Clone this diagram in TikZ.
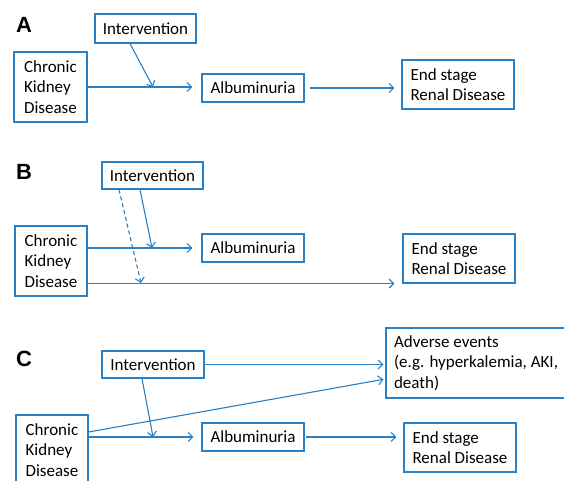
\documentclass[tikz,border=0pt]{standalone}
\usepackage{fontspec}
\setmainfont{Carlito}
\newfontfamily\labfont{Liberation Sans}
\usepackage{tikz}
\usetikzlibrary{arrows.meta, positioning}
\definecolor{ppblue}{RGB}{41,128,196}
\def\bl{ppblue}
\tikzstyle{box} = [rectangle, draw=\bl, line width=1.2pt, align=left, inner sep=0pt,
                   font=\fontsize{17}{20.5}\selectfont]
\tikzstyle{panel} = [font=\labfont\bfseries\fontsize{22}{22}\selectfont]
\tikzstyle{link} = [->, draw=\bl, line width=1.1pt]

\begin{document}
\begin{tikzpicture}[x=1pt, y=-1pt, >={Straight Barb[length=4.5pt,width=9pt]}]
  \useasboundingbox (0,0) rectangle (564,481);

  % panel A
  \node[panel] (labA) at (24,25) {A};
  \node[box, minimum width=101pt, minimum height=29pt] (intA) at (145.5,28.5) {Intervention};
  \node[box, minimum width=73pt, minimum height=70pt] (ckdA) at (50.5,87) {Chronic\\Kidney\\Disease};
  \node[box, minimum width=102pt, minimum height=28pt] (albA) at (253,88) {Albuminuria};
  \node[box, minimum width=112pt, minimum height=49pt] (esrdA) at (458,84.5) {End stage\\Renal Disease};
  \coordinate (jA) at (153,87);

  \draw[link, shorten >=9pt] (ckdA.east) -- (ckdA.east -| albA.west);
  \draw[link] ([xshift=-15.5pt]intA.south) -- (jA);
  \draw[link, shorten <=5pt, shorten >=7pt] (albA.east) -- (albA.east -| esrdA.west);

  % panel B
  \node[panel] (labB) at (24,172) {B};
  \node[box, minimum width=101pt, minimum height=27pt] (intB) at (152.5,175.5) {Intervention};
  \node[box, minimum width=72pt, minimum height=70pt] (ckdB) at (51,261) {Chronic\\Kidney\\Disease};
  \node[box, minimum width=102pt, minimum height=28pt] (albB) at (253,248) {Albuminuria};
  \node[box, minimum width=112pt, minimum height=49pt] (esrdB) at (459,258.5) {End stage\\Renal Disease};
  \coordinate (jB1) at (152,248);
  \coordinate (jB2) at (141,283);

  \draw[link, shorten >=9pt] (ckdB.east |- albB.west) -- (albB.west);
  \draw[link, shorten >=8pt] (ckdB.east |- esrdB.south) -- (esrdB.south west);
  \draw[link] ([xshift=-12.5pt]intB.south) -- (jB1);
  \draw[link, dash pattern=on 4pt off 3pt] ([xshift=-33.5pt]intB.south) -- (jB2);

  % panel C
  \node[panel] (labC) at (24,359) {C};
  \node[box, minimum width=102pt, minimum height=27pt] (intC) at (153,364.5) {Intervention};
  \node[box, minimum width=72pt, minimum height=70pt] (ckdC) at (52,450) {Chronic\\Kidney\\Disease};
  \node[box, minimum width=102pt, minimum height=28pt] (albC) at (253,437) {Albuminuria};
  \node[box, minimum width=112pt, minimum height=49pt] (esrdC) at (460,447.5) {End stage\\Renal Disease};
  \node[box, minimum width=180pt, minimum height=70pt] (advC) at (476,363) {Adverse events\\(e.g. hyperkalemia, AKI,\\death)};
  \coordinate (jC) at (153,437);

  \draw[link, shorten >=2pt] (intC.east) -- (intC.east -| advC.west);
  \draw[link, shorten >=2pt] ([yshift=18pt]ckdC.east) -- ([yshift=-16pt]advC.west);
  \draw[link, shorten >=8pt] (ckdC.east |- albC.west) -- (albC.west);
  \draw[link] ([xshift=-11pt]intC.south) -- (jC);
  \draw[link, shorten <=1pt, shorten >=7pt] (albC.east) -- (albC.east -| esrdC.west);

\end{tikzpicture}
\end{document}
